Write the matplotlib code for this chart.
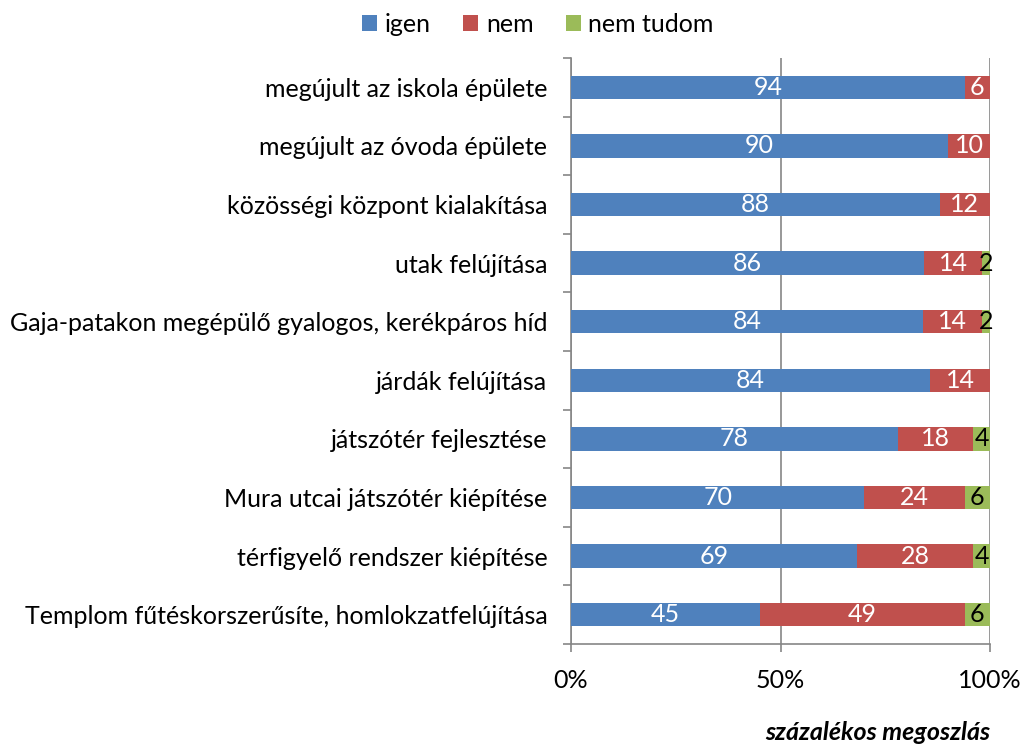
import numpy as np
import matplotlib.pyplot as plt
from matplotlib.ticker import FixedLocator, PercentFormatter
from matplotlib.patches import Patch

categories = [
    "megújult az iskola épülete",
    "megújult az óvoda épülete",
    "közösségi központ kialakítása",
    "utak felújítása",
    "Gaja-patakon megépülő gyalogos, kerékpáros híd",
    "járdák felújítása",
    "játszótér fejlesztése",
    "Mura utcai játszótér kiépítése",
    "térfigyelő rendszer kiépítése",
    "Templom fűtéskorszerűsíte, homlokzatfelújítása",
]
igen = [94, 90, 88, 86, 84, 84, 78, 70, 69, 45]
nem = [6, 10, 12, 14, 14, 14, 18, 24, 28, 49]
nem_tudom = [0, 0, 0, 2, 2, 0, 4, 6, 4, 6]
series_names = ["igen", "nem", "nem tudom"]

colors = ["#4F81BD", "#C0504D", "#9BBB59"]
text_colors = ["white", "white", "black"]
FS = 18

plt.rcParams["font.family"] = ["Lato", "DejaVu Sans"]

# 100% stacked: every row is scaled to its own total
vals = np.array([igen, nem, nem_tudom], dtype=float)
share = vals / vals.sum(axis=0) * 100

fig = plt.figure(figsize=(10.22, 7.44), dpi=100)
ax = fig.add_axes([571 / 1022, 1 - 644 / 744, 419 / 1022, 586 / 744])

y = np.arange(len(categories))
left = np.zeros(len(categories))
for k in range(3):
    ax.barh(y, share[k], left=left, height=0.4, color=colors[k], zorder=3,
            edgecolor="none")
    for i in range(len(categories)):
        if vals[k, i] > 0:
            ax.text(left[i] + share[k, i] / 2, y[i], f"{int(vals[k, i])}",
                    ha="center", va="center", color=text_colors[k],
                    fontsize=FS, zorder=4)
    left += share[k]

ax.set_xlim(0, 100)
ax.set_ylim(len(categories) - 0.5, -0.5)
ax.set_yticks(y)
ax.set_yticklabels(categories, fontsize=FS)
ax.yaxis.set_minor_locator(FixedLocator(np.arange(-0.5, len(categories), 1)))
ax.tick_params(axis="y", which="major", length=0, pad=17)
ax.tick_params(axis="y", which="minor", length=6, color="#868686", width=1.2)
ax.set_xticks([0, 50, 100])
ax.xaxis.set_major_formatter(PercentFormatter(decimals=0))
ax.tick_params(axis="x", length=6, color="#868686", width=1.2, labelsize=FS, pad=12)
ax.grid(axis="x", color="#868686", linewidth=1.2, zorder=0)

for s in ["top", "right"]:
    ax.spines[s].set_visible(False)
for s in ["left", "bottom"]:
    ax.spines[s].set_color("#868686")
    ax.spines[s].set_linewidth(1.2)

handles = [Patch(facecolor=c) for c in colors]
fig.legend(handles, series_names, loc="center", bbox_to_anchor=(538 / 1022, 1 - 24 / 744),
           ncol=3, frameon=False, fontsize=FS, handlelength=0.6, handleheight=0.6,
           handletextpad=0.3, columnspacing=1.3)

fig.text(990 / 1022, 1 - 733 / 744, "százalékos megoszlás", ha="right", va="center",
         fontsize=FS, fontweight="bold", fontstyle="italic")

fig.savefig("out.png", dpi=100)
